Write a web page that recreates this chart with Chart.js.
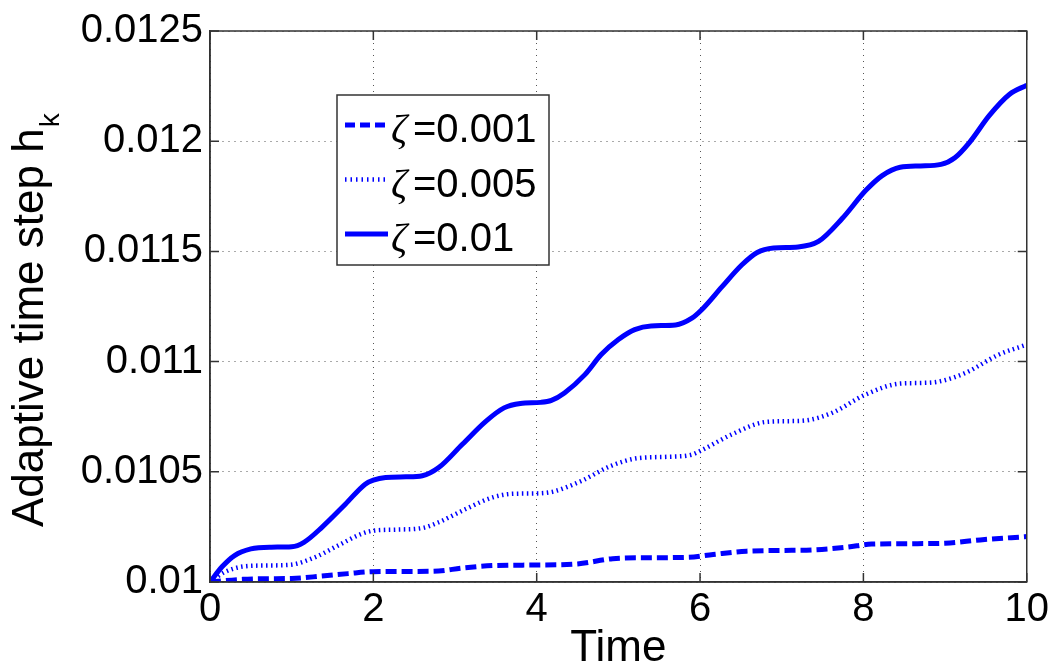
<!DOCTYPE html>
<html>
<head>
  <title>Adaptive time step</title>
  <style>
    body {
      margin: 0;
      padding: 0;
      background-color: white;
    }

    #chart {
      display: block;
    }
  </style>
</head>
<body>
  <canvas id="chart" width="1053" height="669"></canvas>

  <script src="https://cdn.jsdelivr.net/npm/chart.js"></script>
  <script>
    // values
    const seriesLabels = ["ζ=0.001", "ζ=0.005", "ζ=0.01"];

    const timeA = [0, 0.4, 0.7, 1.0, 1.37, 1.69, 2.0, 2.4, 2.8, 3.08, 3.5, 4.0, 4.5, 4.93, 5.3, 5.85, 6.16, 6.57, 7.0, 7.4, 7.8, 8.1, 8.6, 9.0, 9.43, 10];
    const stepA = [0.01, 0.010012, 0.010015, 0.010016, 0.010027, 0.010038, 0.010047, 0.010048, 0.01005, 0.010063, 0.010075, 0.010077, 0.010082, 0.010106, 0.01011, 0.010112, 0.010125, 0.01014, 0.010143, 0.010146, 0.010158, 0.010172, 0.010174, 0.010176, 0.010191, 0.010206];

    const timeB = [0, 0.18, 0.4, 0.7, 0.98, 1.29, 1.57, 1.86, 2.0, 2.3, 2.6, 2.8, 3.13, 3.46, 3.7, 4.0, 4.2, 4.55, 4.91, 5.24, 5.6, 5.9, 6.02, 6.39, 6.8, 7.1, 7.33, 7.62, 8.03, 8.44, 8.7, 8.93, 9.25, 9.66, 10];
    const stepB = [0.01, 0.010045, 0.01007, 0.010075, 0.010078, 0.010113, 0.010166, 0.010219, 0.010233, 0.010238, 0.010245, 0.010271, 0.010331, 0.010384, 0.0104, 0.010402, 0.01041, 0.010459, 0.010527, 0.010562, 0.010568, 0.010578, 0.010598, 0.01067, 0.010726, 0.01073, 0.010735, 0.010768, 0.010851, 0.0109, 0.010903, 0.01091, 0.010949, 0.011032, 0.011077];

    const timeC = [0, 0.15, 0.3, 0.5, 0.75, 1.0, 1.15, 1.37, 1.66, 1.9, 2.0, 2.15, 2.4, 2.6, 2.8, 3.09, 3.38, 3.6, 3.8, 4.05, 4.18, 4.34, 4.59, 4.79, 5.0, 5.2, 5.4, 5.7, 5.9, 6.02, 6.27, 6.51, 6.7, 6.9, 7.2, 7.45, 7.74, 8.03, 8.23, 8.45, 8.7, 8.95, 9.12, 9.3, 9.54, 9.79, 10];
    const stepC = [0.01, 0.01007, 0.01012, 0.01015, 0.010158, 0.01016, 0.01018, 0.010248, 0.010354, 0.010444, 0.010462, 0.010474, 0.010477, 0.010482, 0.010519, 0.010625, 0.01073, 0.01079, 0.01081, 0.010815, 0.010824, 0.010858, 0.010941, 0.011032, 0.0111, 0.011145, 0.011162, 0.011166, 0.011197, 0.011235, 0.01134, 0.011438, 0.011495, 0.011515, 0.01152, 0.011545, 0.011649, 0.011777, 0.011844, 0.011882, 0.011888, 0.011895, 0.011925, 0.011995, 0.012116, 0.012213, 0.012254];

    const xTickLabels = ["0", "2", "4", "6", "8", "10"];
    const yTickLabels = ["0.01", "0.0105", "0.011", "0.0115", "0.012", "0.0125"];

    function toPoints(xs, ys) {
      return xs.map((x, i) => ({ x: x, y: ys[i] }));
    }

    const SANS = '"Liberation Sans", Arial, sans-serif';

    // box, inward ticks, y title and legend the way matlab draws them
    const matlabFrame = {
      id: "matlabFrame",
      afterDatasetsDraw(chart) {
        const { ctx, chartArea: a, scales } = chart;
        ctx.save();
        ctx.strokeStyle = "#333";
        ctx.lineWidth = 1.5;
        ctx.strokeRect(a.left, a.top, a.right - a.left, a.bottom - a.top);
        ctx.beginPath();
        scales.x.ticks.forEach(t => {
          const px = scales.x.getPixelForValue(t.value);
          ctx.moveTo(px, a.bottom); ctx.lineTo(px, a.bottom - 9);
          ctx.moveTo(px, a.top); ctx.lineTo(px, a.top + 9);
        });
        scales.y.ticks.forEach(t => {
          const py = scales.y.getPixelForValue(t.value);
          ctx.moveTo(a.left, py); ctx.lineTo(a.left + 9, py);
          ctx.moveTo(a.right, py); ctx.lineTo(a.right - 9, py);
        });
        ctx.stroke();
        ctx.restore();
      },
      afterDraw(chart) {
        const ctx = chart.ctx;

        // y axis title with subscript k
        ctx.save();
        ctx.translate(43, 527);
        ctx.rotate(-Math.PI / 2);
        ctx.fillStyle = "#000";
        ctx.textBaseline = "alphabetic";
        ctx.font = "44px " + SANS;
        const main = "Adaptive time step h";
        ctx.fillText(main, 0, 0);
        const w = ctx.measureText(main).width;
        ctx.font = "28px " + SANS;
        ctx.fillText("k", w + 1, 16);
        ctx.restore();

        // legend
        const left = 337, top = 95, width = 212, height = 170;
        ctx.save();
        ctx.fillStyle = "#fff";
        ctx.fillRect(left, top, width, height);
        ctx.strokeStyle = "#333";
        ctx.lineWidth = 1.5;
        ctx.strokeRect(left, top, width, height);
        chart.data.datasets.forEach((ds, i) => {
          const rowY = top + 30 + i * 54.5;
          ctx.beginPath();
          ctx.setLineDash(ds.legendDash || []);
          ctx.lineWidth = ds.borderWidth;
          ctx.strokeStyle = ds.borderColor;
          ctx.moveTo(345, rowY);
          ctx.lineTo(388, rowY);
          ctx.stroke();
          ctx.setLineDash([]);
          ctx.fillStyle = "#000";
          ctx.textBaseline = "alphabetic";
          ctx.font = 'italic 40px "Liberation Serif", "DejaVu Serif", serif';
          ctx.fillText(ds.label.charAt(0), 391, rowY + 17);
          ctx.font = "40px " + SANS;
          ctx.fillText(ds.label.slice(1), 413, rowY + 17);
        });
        ctx.restore();
      }
    };

    const ctx = document.getElementById("chart").getContext("2d");
    new Chart(ctx, {
      type: "line",
      data: {
        datasets: [
          {
            label: seriesLabels[0],
            data: toPoints(timeA, stepA),
            borderColor: "#0000ff",
            borderWidth: 5,
            borderDash: [11, 5],
            legendDash: [10, 5],
            pointRadius: 0,
            cubicInterpolationMode: "monotone"
          },
          {
            label: seriesLabels[1],
            data: toPoints(timeB, stepB),
            borderColor: "#0000ff",
            borderWidth: 4.5,
            borderDash: [1.5, 3.5],
            legendDash: [1.5, 4],
            pointRadius: 0,
            cubicInterpolationMode: "monotone"
          },
          {
            label: seriesLabels[2],
            data: toPoints(timeC, stepC),
            borderColor: "#0000ff",
            borderWidth: 5,
            legendDash: [],
            pointRadius: 0,
            cubicInterpolationMode: "monotone"
          }
        ]
      },
      options: {
        responsive: false,
        animation: false,
        layout: {
          padding: { left: 0, right: 26, top: 28, bottom: 0 }
        },
        plugins: {
          legend: { display: false },
          tooltip: { enabled: false }
        },
        scales: {
          x: {
            type: "linear",
            min: 0,
            max: 10,
            afterFit: s => { s.height = 87; },
            ticks: {
              stepSize: 2,
              autoSkip: false,
              maxRotation: 0,
              padding: 4,
              color: "#000",
              font: { size: 40, family: SANS },
              callback: (value, index) => xTickLabels[index]
            },
            grid: {
              color: "#555",
              lineWidth: 1,
              drawTicks: false
            },
            border: { display: true, color: "#333", width: 1.5, dash: [1, 5] },
            title: {
              display: true,
              text: "Time",
              color: "#000",
              font: { size: 44, family: SANS },
              padding: { top: 0, bottom: -6 }
            }
          },
          y: {
            type: "linear",
            min: 0.01,
            max: 0.0125,
            afterFit: s => { s.width = 210; },
            ticks: {
              stepSize: 0.0005,
              autoSkip: false,
              padding: 7,
              color: "#000",
              font: { size: 40, family: SANS },
              callback: (value, index) => yTickLabels[index]
            },
            grid: {
              color: "#555",
              lineWidth: 1,
              drawTicks: false
            },
            border: { display: true, color: "#333", width: 1.5, dash: [1, 5] }
          }
        }
      },
      plugins: [matlabFrame]
    });
  </script>
</body>
</html>
